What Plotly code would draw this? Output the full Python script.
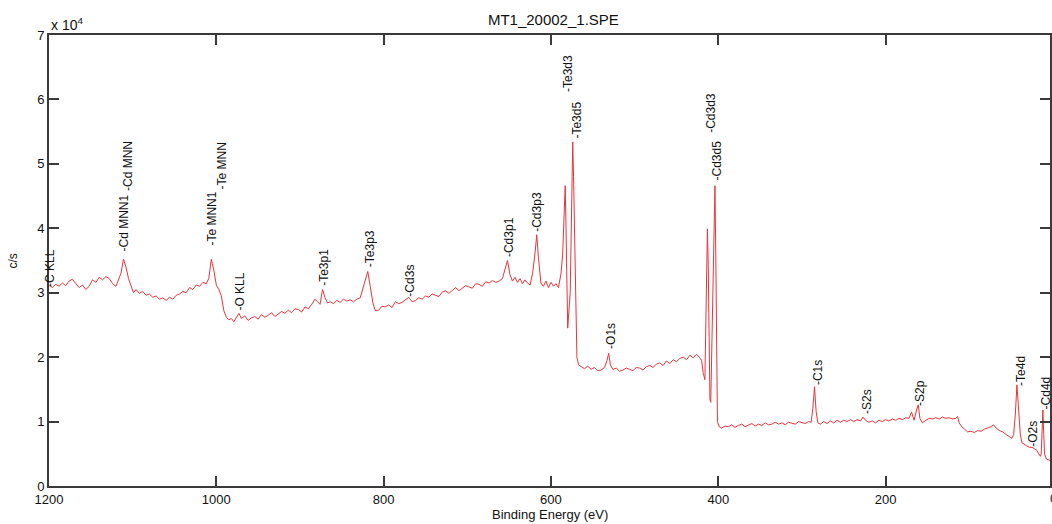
import plotly.graph_objects as go

binding_energy = [
    1200, 1196, 1192, 1188, 1184, 1180, 1176, 1172, 1168, 1164, 1160, 1156, 1152, 1148, 1144, 1140,
    1136, 1132, 1128, 1124, 1120, 1117, 1114, 1111, 1108, 1105, 1102, 1099, 1096, 1092, 1088, 1084,
    1080, 1076, 1072, 1068, 1064, 1060, 1056, 1052, 1048, 1044, 1040, 1036, 1032, 1028, 1024, 1020,
    1016, 1012, 1009, 1006, 1003, 1000, 997, 994, 991, 988, 985, 982, 979, 976, 973, 970,
    966, 962, 958, 954, 950, 946, 942, 938, 934, 930, 926, 922, 918, 914, 910, 906,
    902, 898, 894, 890, 886, 882, 879, 876, 873, 870, 867, 864, 860, 856, 852, 848,
    844, 840, 836, 832, 828, 825, 822, 819, 816, 813, 810, 806, 802, 798, 794, 790,
    786, 782, 778, 774, 770, 766, 762, 758, 754, 750, 746, 742, 738, 734, 730, 726,
    722, 718, 714, 710, 706, 702, 698, 694, 690, 686, 682, 678, 674, 670, 666, 662,
    658, 655, 652, 649, 646, 643, 640, 637, 634, 631, 628, 625, 622, 619, 617, 615,
    612, 609, 606, 603, 600, 597, 594, 591, 588, 586, 584, 583, 582, 580, 577, 575,
    574, 573, 571, 569, 567, 563, 560, 556, 552, 548, 544, 540, 536, 533, 531, 529,
    526, 522, 518, 514, 510, 506, 502, 498, 494, 490, 486, 482, 478, 474, 470, 466,
    462, 458, 454, 450, 446, 442, 438, 434, 430, 426, 424, 420, 418, 416, 414.5, 413,
    412, 411, 410, 409, 407, 405, 404, 403, 402, 401, 399, 396, 392, 388, 384, 380,
    376, 372, 368, 364, 360, 356, 352, 348, 344, 340, 336, 332, 328, 324, 320, 316,
    312, 308, 304, 300, 296, 292, 289, 287, 285, 283, 281, 278, 274, 270, 266, 262,
    258, 254, 250, 246, 242, 238, 234, 230, 227, 224, 220, 216, 212, 208, 204, 200,
    196, 192, 188, 184, 180, 176, 172, 169, 166, 163, 161, 159, 156, 152, 148, 144,
    140, 136, 132, 128, 124, 120, 116, 114, 112, 109, 106, 102, 98, 94, 90, 86,
    82, 78, 74, 71, 68, 64, 60, 56, 52, 49, 47, 45, 43, 41, 39, 37,
    34, 31, 28, 25, 22, 19, 17, 15, 14, 13, 12, 11, 10, 8, 5, 2, 0,
]

counts = [
    31200, 30800, 31300, 31000, 31500, 31100, 31800, 32100, 31400, 30800, 31200, 30500, 31000, 32000, 31600, 32400,
    32000, 32500, 32200, 31400, 31000, 32000, 33000, 35200, 34000, 32200, 31200, 30000, 30500, 29900, 30200, 29600,
    29800, 29300, 29500, 29000, 29200, 28800, 29300, 29000, 29600, 29800, 30200, 30000, 30800, 30500, 31200, 31000,
    31600, 31400, 32200, 35200, 33500, 31200, 30500, 29500, 27200, 26200, 25800, 26000, 25500, 26200, 26800, 26000,
    26400, 25700, 26100, 26300, 25900, 26600, 26200, 26500, 26900, 26300, 26700, 27100, 26800, 27300, 26900, 27500,
    27400, 27000, 27800, 27500, 28200, 29000, 28600, 28200, 30500, 29200, 28400, 28600, 28300, 28800, 28500, 29000,
    28700, 28900, 28600, 29000, 29200, 30500, 32000, 33300, 31000, 28500, 27200, 27300, 27900, 27800, 28100, 27700,
    28600, 28300, 28500, 28900, 29300, 28600, 28800, 29200, 29000, 29500, 29300, 29800, 29600, 29400, 30100, 30300,
    29900, 30400, 30800, 30300, 30700, 31100, 30900, 30700, 31400, 31300, 31000, 31700, 31500, 31900, 31600, 31800,
    32200, 33500, 35000, 32800, 31800, 32400, 31600, 32200, 31400, 32000, 31500, 31200, 33000, 36200, 39000, 35500,
    31500, 31000, 31800, 30800, 31600, 31000, 31400, 30800, 33000, 36000, 43000, 46600, 40000, 24500, 30000, 48000,
    53400, 48000, 30000, 20000, 18800, 18500, 18200, 18600, 18100, 18400, 17900, 18000, 18400, 19500, 20600, 18800,
    18100, 18300, 17800, 18000, 18300, 18100, 17900, 18400, 18300, 18000, 18500, 18700, 18400, 18900, 19100, 18700,
    19400, 19000, 19600, 19300, 19800, 20000, 19600, 20300, 19900, 20400, 20200, 19500, 17500, 16500, 28000, 39900,
    34000, 20000, 13500, 13000, 25000, 40000, 46600, 36000, 18000, 10000, 9200, 9000, 9300, 9200, 9500, 9100,
    9400, 9600, 9200, 9500, 9700, 9300, 9600, 9400, 9800, 9500, 9600, 9900, 9600, 9800, 9500, 9900,
    9800, 9600, 10000, 9800, 9700, 10000, 9900, 12000, 15400, 11500, 9800, 9600, 10000, 9700, 10100, 9800,
    10200, 9900, 10200, 10000, 10300, 10000, 10300, 10100, 10700, 10200, 9900, 10100, 9800, 10200, 10000, 10300,
    10100, 10400, 10200, 10500, 10300, 10600, 10500, 11500, 10200, 11800, 12600, 10500, 9800, 10200, 10500, 10400,
    10600, 10400, 10700, 10500, 10600, 10400, 10500, 10800, 9800, 9200, 8800, 8400, 8500, 8300, 8600, 8500,
    8800, 9000, 9200, 9500, 9000, 8600, 8400, 8000, 7700, 7400, 8000, 11000, 15700, 12000, 8000, 6700,
    6400, 6200, 6000, 6000, 5800, 5500, 5000, 4600, 5000, 9000, 11800, 8000, 5000, 4200, 4000, 3900, 3800,
]

peak_labels = ["-C KLL", "-Cd MNN1", "-Cd MNN", "-Te MNN1", "-Te MNN", "-O KLL", "-Te3p1", "-Te3p3",
               "-Cd3s", "-Cd3p1", "-Cd3p3", "-Te3d3", "-Te3d5", "-O1s", "-Cd3d3", "-Cd3d5",
               "-C1s", "-S2s", "-S2p", "-Te4d", "-O2s", "-Cd4d"]
peak_label_be = [1199, 1110.5, 1105.8, 1005.6, 993.6, 972.2, 870.8, 817, 768, 650, 616.7, 579, 570,
                 528.4, 408, 402, 281.5, 223, 158.6, 38, 24, 8.3]
peak_label_y = [30700, 36300, 45600, 37100, 45900, 27000, 30900, 33800, 29300, 35400, 39300, 61000,
                53700, 21100, 54600, 47200, 15500, 11000, 12300, 15400, 5900, 11800]

x_ticks = [1200, 1000, 800, 600, 400, 200]
y_ticks = [0, 10000, 20000, 30000, 40000, 50000, 60000, 70000]
y_tick_text = ["0", "1", "2", "3", "4", "5", "6", "7"]

FONT = "Liberation Sans, Arial, sans-serif"
AXIS_COLOR = "#3a3a3a"

fig = go.Figure()
fig.add_trace(go.Scatter(
    x=binding_energy, y=counts, mode="lines",
    line=dict(color="#e8353a", width=1), showlegend=False, hoverinfo="x+y",
))

annotations = []
for txt, bx, by in zip(peak_labels, peak_label_be, peak_label_y):
    annotations.append(dict(
        x=bx, y=by, xref="x", yref="y", text=txt, textangle=-90, showarrow=False,
        xanchor="center", yanchor="bottom", borderpad=0,
        font=dict(family=FONT, size=12, color="#111"),
    ))

annotations += [
    dict(x=0, y=1.0244, xref="paper", yref="paper", text="x 10<sup>4</sup>", showarrow=False,
         xanchor="left", yanchor="middle", font=dict(family=FONT, size=14, color="#111")),
    dict(x=0.5, y=-0.064, xref="paper", yref="paper", text="Binding Energy (eV)", showarrow=False,
         xanchor="center", yanchor="middle", font=dict(family=FONT, size=13, color="#111")),
    dict(x=-0.036, y=0.5, xref="paper", yref="paper", text="c/s", textangle=-90, showarrow=False,
         xanchor="center", yanchor="middle", font=dict(family=FONT, size=12, color="#111")),
    dict(x=1.003, y=-0.027, xref="paper", yref="paper", text="0", showarrow=False,
         xanchor="center", yanchor="middle", font=dict(family=FONT, size=13, color="#111")),
]

fig.update_layout(
    width=1052, height=524,
    margin=dict(l=49, r=0, t=35, b=38),
    paper_bgcolor="white", plot_bgcolor="white",
    title=dict(text="MT1_20002_1.SPE", x=0.526, xanchor="center", y=0.962, yanchor="middle",
               font=dict(family=FONT, size=15, color="#111")),
    annotations=annotations,
    font=dict(family=FONT, color="#111"),
)
fig.update_xaxes(
    range=[1200, 3.5], tickvals=x_ticks, ticks="inside", ticklen=10, tickwidth=1.5,
    tickcolor=AXIS_COLOR, showline=True, linecolor=AXIS_COLOR, linewidth=1.8, mirror="ticks",
    showgrid=False, zeroline=False, tickfont=dict(family=FONT, size=13, color="#111"),
)
fig.update_yaxes(
    range=[0, 70000], tickvals=y_ticks, ticktext=y_tick_text, ticks="inside", ticklen=10,
    tickwidth=1.5, tickcolor=AXIS_COLOR, showline=True, linecolor=AXIS_COLOR, linewidth=1.8,
    mirror="ticks", showgrid=False, zeroline=False,
    tickfont=dict(family=FONT, size=13, color="#111"),
)

fig.write_html(
    "out.html",
    config={"displayModeBar": False},
    post_script="document.body.style.margin='0';document.body.style.overflow='hidden';",
)
